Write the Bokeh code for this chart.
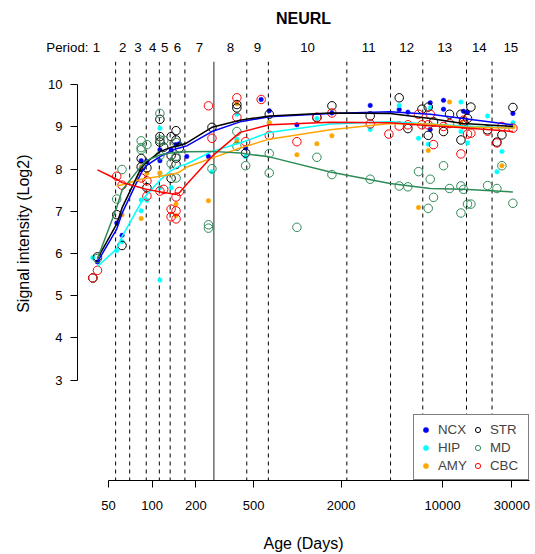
import math
from bokeh.plotting import figure
from bokeh.layouts import column
from bokeh.models import (Range1d, FixedTicker, Span, Legend, LegendItem, NumeralTickFormatter, Title)
from bokeh.embed import file_html
from bokeh.resources import INLINE

FONT = "Liberation Sans"

# ---------------- data ----------------
gene = "NEURL"
period_bounds = [56, 70, 91, 112, 133, 168, 448, 631, 2190, 4380, 7300, 14600, 21900]
birth = 266
period_labels = [str(i) for i in range(1, 16)]
x_ticks = [50, 100, 200, 500, 2000, 10000, 30000]
y_ticks = [3, 4, 5, 6, 7, 8, 9, 10]

ncx_age = [42, 57, 62, 84, 84, 92, 113, 113, 135, 146, 154, 173, 244, 440, 563, 640, 992, 1728,
           3172, 5024, 5768, 8217, 8217, 10140, 10140, 13930, 14840, 30480]
ncx_val = [5.80, 6.72, 6.43, 8.20, 7.99, 8.18, 8.46, 8.20, 8.46, 8.58, 8.60, 8.30, 8.30, 8.50, 9.65,
           9.38, 9.05, 9.33, 9.51, 9.41, 9.35, 9.57, 8.94, 9.63, 9.42, 9.37, 9.35, 9.32]

hip_age = [39, 57, 62, 84, 84, 92, 113, 113, 113, 113, 135, 258, 383, 383, 440, 640, 1362, 3172,
           5024, 6823, 7960, 8217, 13366, 13366, 14840, 20380, 23650, 25600, 30480]
hip_val = [5.90, 6.07, 6.28, 7.27, 7.01, 7.26, 8.97, 7.90, 7.56, 5.37, 7.56, 7.94, 9.30, 8.71, 8.30,
           9.10, 9.20, 8.94, 9.51, 8.73, 8.59, 9.45, 9.59, 8.89, 8.62, 9.26, 7.94, 8.42, 9.10]

amy_age = [62, 84, 84, 92, 113, 146, 146, 244, 383, 383, 640, 992, 1362, 1728, 6823, 7960, 11160,
           13366, 25600, 30480]
amy_val = [6.92, 6.83, 8.05, 7.90, 7.91, 7.17, 6.90, 7.25, 9.55, 8.65, 9.10, 8.34, 8.60, 8.79, 7.09,
           8.44, 9.59, 9.10, 8.08, 9.00]

str_age = [39, 42, 57, 62, 84, 84, 92, 92, 113, 113, 113, 120, 135, 135, 135, 146, 146, 146, 146,
           154, 258, 383, 383, 440, 640, 1362, 1728, 3172, 5024, 5768, 7200, 7960, 7960, 8658,
           10140, 11160, 13366, 13366, 13930, 14840, 15660, 20380, 23650, 25600, 30480]
str_val = [5.42, 5.92, 6.92, 6.19, 8.25, 8.05, 8.03, 7.56, 9.18, 8.77, 8.64, 8.52, 8.77, 8.32, 7.78,
           8.91, 8.69, 8.26, 8.11, 8.50, 8.99, 9.53, 9.45, 8.38, 9.30, 9.22, 9.50, 9.26, 9.69, 8.96,
           9.42, 8.80, 9.47, 9.12, 8.89, 9.30, 9.30, 8.69, 9.12, 9.20, 9.47, 8.93, 8.64, 8.81, 9.46]

md_age = [39, 42, 57, 62, 84, 84, 84, 92, 113, 113, 113, 120, 135, 146, 146, 146, 244, 244, 258,
          383, 383, 440, 640, 640, 992, 1362, 1728, 3172, 5024, 5768, 6823, 7960, 8217, 8658,
          10140, 11160, 13366, 13366, 13930, 14840, 15660, 20380, 23650, 25600, 30480]
md_val = [5.42, 5.88, 7.29, 7.99, 8.67, 8.51, 8.46, 8.58, 9.32, 8.69, 8.32, 8.68, 8.13, 7.79, 8.30,
          8.63, 6.68, 6.60, 8.01, 8.89, 8.54, 8.08, 8.37, 7.91, 6.62, 8.28, 7.87, 7.76, 7.60, 7.58,
          7.94, 7.07, 7.76, 7.33, 8.08, 7.54, 7.60, 6.96, 7.52, 7.17, 7.17, 7.61, 7.54, 8.08, 7.19]

cbc_age = [39, 42, 57, 62, 84, 92, 92, 113, 120, 135, 135, 146, 146, 146, 154, 244, 258, 383, 383,
           440, 563, 640, 992, 1362, 1728, 3172, 4266, 5024, 5768, 6823, 7200, 7960, 8217, 8658,
           10140, 11160, 13366, 13930, 13930, 14840, 15660, 20380, 23650, 25600, 30480]
cbc_val = [5.42, 5.60, 7.83, 7.62, 7.79, 7.72, 7.36, 7.48, 7.52, 7.05, 6.87, 7.34, 7.01, 6.82, 7.47,
           9.50, 8.73, 9.69, 9.23, 8.65, 9.65, 8.80, 8.65, 9.23, 9.33, 9.07, 8.83, 9.02, 9.05, 9.30,
           9.05, 9.05, 9.30, 8.58, 9.01, 9.08, 8.36, 9.16, 9.06, 8.83, 8.85, 8.90, 8.62, 9.01, 8.97]

# smoothed trend per region
fit_age = [42, 57, 62, 84, 91, 114, 133, 146, 154, 173, 258, 403, 640, 1682, 4355, 8217, 13860, 30480]
ncx_fit = [5.80, 6.58, 6.95, 7.91, 8.08, 8.30, 8.42, 8.48, 8.50, 8.55, 8.89, 9.12, 9.24, 9.32, 9.36, 9.30, 9.20, 9.05]
hip_fit = [5.69, 6.11, 6.40, 7.21, 7.38, 7.75, 7.95, 8.03, 8.07, 8.12, 8.42, 8.62, 8.87, 9.07, 9.12, 9.07, 9.02, 8.97]
amy_fit = [float("nan"), 7.60, 7.63, 7.76, 7.78, 7.83, 7.87, 7.90, 7.93, 8.05, 8.26, 8.50, 8.71, 8.93, 9.08, 9.07, 9.00, 8.97]
str_fit = [5.88, 6.70, 7.08, 8.03, 8.16, 8.42, 8.51, 8.54, 8.56, 8.62, 8.99, 9.16, 9.26, 9.33, 9.32, 9.20, 9.08, 9.01]
md_fit = [5.88, 7.09, 7.50, 8.07, 8.20, 8.34, 8.38, 8.40, 8.40, 8.41, 8.42, 8.38, 8.29, 7.93, 7.66, 7.54, 7.52, 7.46]
cbc_fit = [7.98, 7.76, 7.68, 7.56, 7.52, 7.46, 7.42, 7.40, 7.44, 7.64, 8.30, 8.87, 9.05, 9.11, 9.10, 9.03, 8.98, 8.89]

# ---------------- layout ----------------
W, H = 535, 554
HEAD = 61                      # header strip (title + period labels)
HEAD_TOP = 33                  # title band inside the header
FL, FR, FB = 77, 529, 484      # frame edges in page pixels
X_LO, X_HI = 30.6, 39650.0
Y_LO, Y_HI = 0.62, 10.55

# ---- header: title and period labels on the same x scale ----
head = figure(width=W, height=HEAD, x_axis_type="log",
              x_range=Range1d(X_LO, X_HI), y_range=Range1d(0, 1),
              x_axis_location=None, y_axis_location="left",
              output_backend="svg", toolbar_location=None,
              min_border_left=FL, min_border_right=W - FR,
              min_border_top=HEAD_TOP, min_border_bottom=0)
head.outline_line_color = None
head.xgrid.visible = False
head.ygrid.visible = False
head.title.text = gene
head.title.align = "center"
head.title.vertical_align = "middle"
head.title.text_font = FONT
head.title.text_font_size = "16px"
head.title.text_font_style = "bold"
head.title.text_color = "black"
head.title.standoff = 12

hy = head.yaxis[0]
hy.ticker = FixedTicker(ticks=[])
hy.axis_line_color = None
hy.major_tick_line_color = None
hy.minor_tick_line_color = None
hy.major_tick_out = 0
hy.major_tick_in = 0
hy.axis_label = "Period:"
hy.axis_label_orientation = "horizontal"
hy.axis_label_standoff = -11
hy.axis_label_text_font = FONT
hy.axis_label_text_font_size = "13.3px"
hy.axis_label_text_font_style = "normal"
hy.axis_label_text_color = "black"

edges = [X_LO] + period_bounds[:6] + [birth] + period_bounds[6:] + [X_HI]
mids = [math.sqrt(edges[i] * edges[i + 1]) for i in range(len(edges) - 1)]
head.text(x=mids, y=[0.5] * len(mids), text=period_labels, text_align="center",
          text_baseline="middle", text_font={"value": FONT}, text_font_size="13.3px",
          text_color="black")

# ---- main plot ----
p = figure(width=W, height=H - HEAD, x_axis_type="log",
           x_range=Range1d(X_LO, X_HI), y_range=Range1d(Y_LO, Y_HI),
           output_backend="svg", toolbar_location=None,
           min_border_left=FL, min_border_right=W - FR,
           min_border_top=0, min_border_bottom=H - FB)
p.xgrid.visible = False
p.ygrid.visible = False
p.outline_line_color = None
p.background_fill_color = "white"
p.border_fill_color = "white"

for ax in (p.xaxis[0], p.yaxis[0]):
    ax.axis_line_color = "black"
    ax.axis_line_width = 1
    ax.major_tick_line_color = "black"
    ax.major_tick_in = 0
    ax.major_tick_out = 7
    ax.minor_tick_line_color = None
    ax.major_label_text_font = FONT
    ax.major_label_text_font_size = "13px"
    ax.major_label_text_color = "black"
    ax.axis_label_text_font = FONT
    ax.axis_label_text_font_size = "16px"
    ax.axis_label_text_font_style = "normal"
    ax.axis_label_text_color = "black"

p.xaxis.ticker = FixedTicker(ticks=x_ticks, minor_ticks=[])
p.xaxis.formatter = NumeralTickFormatter(format="0")
p.xaxis.bounds = (x_ticks[0], X_HI)
p.xaxis.major_label_standoff = 13
p.xaxis.axis_label = "Age (Days)"
p.xaxis.axis_label_standoff = 22

p.yaxis.ticker = FixedTicker(ticks=y_ticks, minor_ticks=[])
p.yaxis.bounds = (y_ticks[0], y_ticks[-1])
p.yaxis.major_label_standoff = 8

ylab = Title(text="Signal intensity (Log2)", align="right", offset=93,
             vertical_align="top", standoff=24,
             text_font=FONT, text_font_size="16px", text_font_style="normal",
             text_color="black")
p.add_layout(ylab, "left")

# period boundaries
for b in period_bounds:
    p.add_layout(Span(location=b, dimension="height", line_color="black",
                      line_dash="4 4", line_width=1, level="underlay"))
p.add_layout(Span(location=birth, dimension="height", line_color="#555555",
                  line_width=1.3, level="underlay"))

# points
dot_series = [("NCX", ncx_age, ncx_val, "blue"),
              ("HIP", hip_age, hip_val, "cyan"),
              ("AMY", amy_age, amy_val, "orange")]
ring_series = [("STR", str_age, str_val, "black"),
               ("MD", md_age, md_val, "seagreen"),
               ("CBC", cbc_age, cbc_val, "red")]
rend = {}
for name, a, v, c in dot_series:
    rend[name] = p.scatter(a, v, marker="circle", size=4.5, fill_color=c, line_color=c, line_width=0.5)
for name, a, v, c in ring_series:
    rend[name] = p.scatter(a, v, marker="circle", size=8.5, fill_color=None, line_color=c, line_width=1)

fits = [(ncx_fit, "blue"), (hip_fit, "cyan"), (amy_fit, "orange"),
        (str_fit, "black"), (md_fit, "seagreen"), (cbc_fit, "red")]
for f, c in fits:
    p.line(fit_age, f, line_color=c, line_width=1.5)

# legend
items = [LegendItem(label=n, renderers=[rend[n]]) for n in ["NCX", "HIP", "AMY", "STR", "MD", "CBC"]]
leg = Legend(items=items, location="bottom_right", orientation="vertical", nrows=3,
             margin=0, padding=5, spacing=0, glyph_width=13, glyph_height=13,
             label_height=18, label_width=33, label_standoff=6,
             label_text_font=FONT, label_text_font_size="13.3px",
             border_line_color="black", border_line_width=1,
             background_fill_color="white", background_fill_alpha=1.0)
p.add_layout(leg)

layout = column(head, p, spacing=0)
open("out.html", "w").write(file_html(layout, INLINE))
